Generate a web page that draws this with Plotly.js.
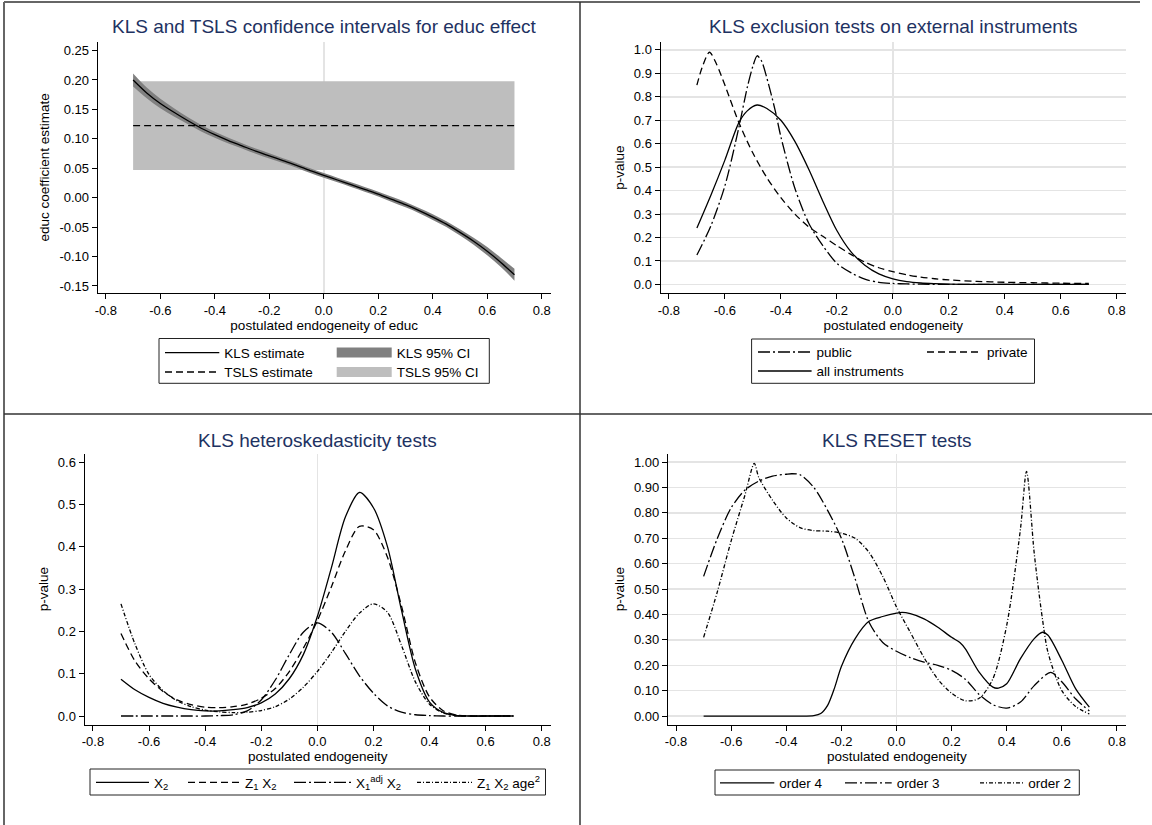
<!DOCTYPE html>
<html>
<head>
<meta charset="utf-8">
<script src="https://cdn.plot.ly/plotly-3.0.1.min.js"></script>
<style>html,body{margin:0;padding:0;background:#fff;}#chart{width:1152px;height:825px;}</style>
</head>
<body>
<div id="chart"></div>
<script>
// ---------- data ----------
const xTickVals = [-0.8,-0.6,-0.4,-0.2,0,0.2,0.4,0.6,0.8];
const xTickText = ['-0.8','-0.6','-0.4','-0.2','0.0','0.2','0.4','0.6','0.8'];

const y1TickVals = [-0.15,-0.10,-0.05,0,0.05,0.10,0.15,0.20,0.25];
const y1TickText = ['-0.15','-0.10','-0.05','0.00','0.05','0.10','0.15','0.20','0.25'];
const y1GridVals = [-0.15,-0.10,-0.05,0,0.05,0.10,0.15,0.20];
const y2TickVals = [0,0.1,0.2,0.3,0.4,0.5,0.6,0.7,0.8,0.9,1.0];
const y2TickText = ['0.0','0.1','0.2','0.3','0.4','0.5','0.6','0.7','0.8','0.9','1.0'];
const y3TickVals = [0,0.1,0.2,0.3,0.4,0.5,0.6];
const y3TickText = ['0.0','0.1','0.2','0.3','0.4','0.5','0.6'];
const y3GridVals = [0,0.1,0.2,0.3,0.4,0.5];
const y4TickVals = [0,0.1,0.2,0.3,0.4,0.5,0.6,0.7,0.8,0.9,1.0];
const y4TickText = ['0.00','0.10','0.20','0.30','0.40','0.50','0.60','0.70','0.80','0.90','1.00'];

// Panel 1: KLS and TSLS confidence intervals
const endog1 = [-0.70,-0.65,-0.60,-0.55,-0.50,-0.45,-0.40,-0.35,-0.30,-0.25,-0.20,-0.15,-0.10,-0.05,0.00,0.05,0.10,0.15,0.20,0.25,0.30,0.35,0.40,0.45,0.50,0.55,0.60,0.65,0.70];
const klsEst = [0.200,0.178,0.160,0.145,0.131,0.118,0.107,0.097,0.088,0.079,0.071,0.063,0.055,0.046,0.038,0.030,0.022,0.014,0.006,-0.003,-0.012,-0.022,-0.033,-0.045,-0.059,-0.074,-0.091,-0.110,-0.131];
const klsLo  = [0.189,0.169,0.152,0.138,0.125,0.1125,0.102,0.092,0.0835,0.0745,0.0665,0.059,0.051,0.042,0.034,0.026,0.018,0.010,0.002,-0.0075,-0.0165,-0.0265,-0.038,-0.050,-0.0645,-0.080,-0.098,-0.118,-0.141];
const klsHi  = [0.211,0.187,0.168,0.152,0.137,0.1235,0.112,0.102,0.0925,0.0835,0.0755,0.067,0.059,0.050,0.042,0.034,0.026,0.018,0.010,0.0015,-0.0075,-0.0175,-0.028,-0.040,-0.0535,-0.068,-0.084,-0.102,-0.121];
const tslsX  = [-0.70,0.70];
const tslsEst = [0.1225,0.1225];
const tslsLo  = [0.047,0.047];
const tslsHi  = [0.198,0.198];

// Panel 2: exclusion tests
const pubX  = [-0.70,-0.65,-0.60,-0.55,-0.52,-0.50,-0.485,-0.47,-0.45,-0.42,-0.40,-0.35,-0.30,-0.25,-0.20,-0.15,-0.10,-0.05,0.00,0.05,0.10,0.20,0.30,0.40,0.50,0.60,0.70];
const pubY  = [0.125,0.25,0.42,0.67,0.84,0.93,0.975,0.955,0.88,0.74,0.63,0.41,0.26,0.165,0.09,0.05,0.022,0.009,0.004,0.002,0.001,0,0,0,0,0,0];
const privX = [-0.70,-0.68,-0.655,-0.63,-0.60,-0.55,-0.50,-0.45,-0.40,-0.35,-0.30,-0.25,-0.20,-0.15,-0.10,-0.05,0.00,0.05,0.10,0.15,0.20,0.30,0.40,0.50,0.60,0.70];
const privY = [0.85,0.93,0.99,0.94,0.85,0.69,0.56,0.455,0.37,0.30,0.245,0.205,0.165,0.128,0.095,0.071,0.054,0.041,0.031,0.024,0.019,0.013,0.009,0.007,0.005,0.004];
const allX  = [-0.70,-0.65,-0.60,-0.55,-0.52,-0.485,-0.45,-0.40,-0.35,-0.30,-0.25,-0.20,-0.15,-0.10,-0.05,0.00,0.05,0.10,0.15,0.20,0.30,0.40,0.50,0.60,0.70];
const allY  = [0.24,0.38,0.53,0.69,0.74,0.765,0.75,0.70,0.61,0.49,0.355,0.23,0.14,0.082,0.045,0.024,0.012,0.006,0.003,0.001,0,0,0,0,0];

// Panel 3: heteroskedasticity tests
const endog3 = [-0.70,-0.65,-0.60,-0.55,-0.50,-0.45,-0.40,-0.35,-0.30,-0.25,-0.20,-0.15,-0.10,-0.05,0.00,0.05,0.10,0.15,0.20,0.25,0.30,0.35,0.40,0.45,0.50,0.55,0.60,0.65,0.70];
const hetX2     = [0.087,0.062,0.044,0.030,0.021,0.015,0.012,0.012,0.015,0.020,0.031,0.052,0.088,0.145,0.235,0.35,0.47,0.528,0.492,0.40,0.25,0.11,0.033,0.008,0.001,0,0,0,0];
const hetZ1X2   = [0.195,0.13,0.088,0.058,0.038,0.027,0.021,0.020,0.022,0.028,0.042,0.065,0.105,0.16,0.225,0.305,0.39,0.448,0.44,0.375,0.26,0.125,0.045,0.012,0.002,0,0,0,0];
const hetX1adj  = [0,0,0,0,0,0,0,0.001,0.003,0.012,0.038,0.085,0.145,0.198,0.22,0.198,0.148,0.095,0.054,0.024,0.009,0.003,0.001,0,0,0,0,0,0];
const hetAge2   = [0.265,0.17,0.098,0.06,0.036,0.022,0.014,0.010,0.008,0.009,0.013,0.022,0.04,0.068,0.105,0.15,0.2,0.243,0.265,0.245,0.167,0.08,0.028,0.007,0.001,0,0,0,0];

// Panel 4: RESET tests
const o4X = [-0.70,-0.60,-0.50,-0.40,-0.35,-0.30,-0.275,-0.25,-0.225,-0.20,-0.15,-0.10,-0.05,0.00,0.02,0.05,0.10,0.15,0.20,0.23,0.25,0.30,0.35,0.37,0.40,0.45,0.50,0.53,0.55,0.60,0.65,0.70];
const o4Y = [0,0,0,0,0,0.002,0.01,0.042,0.11,0.195,0.305,0.373,0.392,0.405,0.408,0.403,0.383,0.35,0.31,0.29,0.265,0.173,0.114,0.11,0.127,0.226,0.305,0.33,0.318,0.22,0.108,0.035];
const o3X = [-0.70,-0.65,-0.60,-0.55,-0.50,-0.45,-0.40,-0.38,-0.35,-0.30,-0.25,-0.20,-0.15,-0.10,-0.05,0.00,0.05,0.10,0.15,0.20,0.25,0.30,0.35,0.40,0.45,0.50,0.56,0.60,0.65,0.70];
const o3Y = [0.55,0.70,0.82,0.89,0.925,0.945,0.952,0.954,0.95,0.90,0.81,0.70,0.54,0.37,0.29,0.255,0.23,0.212,0.2,0.18,0.145,0.085,0.045,0.031,0.055,0.12,0.172,0.135,0.068,0.02];
const o2X = [-0.70,-0.65,-0.60,-0.55,-0.516,-0.50,-0.45,-0.40,-0.35,-0.30,-0.25,-0.20,-0.15,-0.10,-0.05,0.00,0.05,0.10,0.15,0.20,0.25,0.30,0.35,0.40,0.45,0.472,0.50,0.53,0.55,0.60,0.65,0.70];
const o2Y = [0.31,0.49,0.69,0.87,0.995,0.94,0.85,0.78,0.742,0.73,0.728,0.72,0.70,0.645,0.55,0.43,0.33,0.23,0.145,0.09,0.06,0.07,0.147,0.357,0.737,0.963,0.64,0.38,0.25,0.1,0.038,0.008];

// ---------- styling ----------
const W = 1152, H = 825;
const FONT = 'Liberation Sans, Arial, Helvetica, sans-serif';
const TITLE_COLOR = '#1e3262';
const GRID = '#e4e4e4';
const DASH_LONGDOT = '12px,3px,2px,3px';
const DASH_SHORTDOT = '4px,2px,1px,2px';
const DASH = '7px,4px';
const LW = 1.3;

function px(v){ return v / W; }
function py(v){ return 1 - v / H; }

function xa(l, r, anchor, title){
  return {domain:[px(l), px(r)], anchor:anchor, range:[-0.83,0.833], tickvals:xTickVals, ticktext:xTickText,
    ticks:'outside', ticklen:5, tickcolor:'#000', tickwidth:1, showline:true, linecolor:'#000', linewidth:1,
    showgrid:false, zeroline:true, zerolinecolor:GRID, zerolinewidth:1.5,
    tickfont:{family:FONT,size:13,color:'#000'},
    title:{text:title, font:{family:FONT,size:13.5,color:'#000'}, standoff:2}, fixedrange:true};
}
function ya(t, b, anchor, range, tv, tt, title, grid){
  return {domain:[py(b), py(t)], anchor:anchor, range:range, tickvals:tv, ticktext:tt,
    ticks:'outside', ticklen:5, tickcolor:'#000', tickwidth:1, showline:true, linecolor:'#000', linewidth:1,
    showgrid:grid, gridcolor:GRID, gridwidth:1.5, zeroline:false,
    tickfont:{family:FONT,size:13,color:'#000'},
    title:{text:title, font:{family:FONT,size:13.5,color:'#000'}, standoff:6}, fixedrange:true};
}
// grid-only overlay axis (no labels) so that the top tick carries no grid line
function gridAxis(over, anchor, t, b, range, gv){
  return {overlaying:over, anchor:anchor, domain:[py(b), py(t)], range:range, tickvals:gv, showticklabels:false,
    ticks:'', showline:false, showgrid:true, gridcolor:GRID, gridwidth:1.5, zeroline:false, fixedrange:true};
}
function leg(lineStart, textStart, rowCenter){
  return {x:px(lineStart-5), y:py(rowCenter-15), xanchor:'left', yanchor:'top', bgcolor:'rgba(0,0,0,0)',
    borderwidth:0, itemwidth:Math.max(30, textStart-lineStart-5), tracegroupgap:0,
    font:{family:FONT,size:13.5,color:'#000'}, orientation:'v'};
}
function line(x, y, xaxis, yaxis, name, dash, legend){
  return {type:'scatter', mode:'lines', x:x, y:y, xaxis:xaxis, yaxis:yaxis, name:name, legend:legend,
    line:{color:'#000', width:LW, dash:dash, shape:'spline', smoothing:0.8}, hoverinfo:'skip'};
}

const traces = [
  // panel 1
  {type:'scatter', mode:'lines', x:tslsX, y:tslsLo, xaxis:'x', yaxis:'y', line:{width:0,color:'#bebebe'}, showlegend:false, hoverinfo:'skip'},
  {type:'scatter', mode:'lines', x:tslsX, y:tslsHi, xaxis:'x', yaxis:'y', line:{width:0,color:'#bebebe'}, fill:'tonexty', fillcolor:'#bebebe', showlegend:false, hoverinfo:'skip'},
  {type:'scatter', mode:'lines', x:endog1, y:klsLo, xaxis:'x', yaxis:'y', line:{width:0,color:'#808080',shape:'spline'}, showlegend:false, hoverinfo:'skip'},
  {type:'scatter', mode:'lines', x:endog1, y:klsHi, xaxis:'x', yaxis:'y', line:{width:0,color:'#808080',shape:'spline'}, fill:'tonexty', fillcolor:'#808080', showlegend:false, hoverinfo:'skip'},
  line(endog1, klsEst, 'x', 'y', 'KLS estimate', 'solid', 'legend'),
  line(tslsX, tslsEst, 'x', 'y', 'TSLS estimate', DASH, 'legend2'),
  {type:'scatter', mode:'lines', x:[null], y:[null], xaxis:'x', yaxis:'y', name:'KLS 95% CI', legend:'legend3', line:{color:'#808080', width:14}, hoverinfo:'skip'},
  {type:'scatter', mode:'lines', x:[null], y:[null], xaxis:'x', yaxis:'y', name:'TSLS 95% CI', legend:'legend4', line:{color:'#bebebe', width:14}, hoverinfo:'skip'},
  // panel 2
  line(pubX, pubY, 'x2', 'y2', 'public', DASH_LONGDOT, 'legend5'),
  line(privX, privY, 'x2', 'y2', 'private', DASH, 'legend6'),
  line(allX, allY, 'x2', 'y2', 'all instruments', 'solid', 'legend7'),
  // panel 3
  line(endog3, hetX2, 'x3', 'y3', 'X<sub>2</sub>', 'solid', 'legend8'),
  line(endog3, hetZ1X2, 'x3', 'y3', 'Z<sub>1</sub> X<sub>2</sub>', DASH, 'legend9'),
  line(endog3, hetX1adj, 'x3', 'y3', 'X<sub>1</sub><sup>adj</sup> X<sub>2</sub>', DASH_LONGDOT, 'legend10'),
  line(endog3, hetAge2, 'x3', 'y3', 'Z<sub>1</sub> X<sub>2</sub> age<sup>2</sup>', DASH_SHORTDOT, 'legend11'),
  // panel 4
  line(o4X, o4Y, 'x4', 'y4', 'order 4', 'solid', 'legend12'),
  line(o3X, o3Y, 'x4', 'y4', 'order 3', DASH_LONGDOT, 'legend13'),
  line(o2X, o2Y, 'x4', 'y4', 'order 2', DASH_SHORTDOT, 'legend14')
];

function title(text, cx, cy){
  return {text:text, x:px(cx), y:py(cy), xref:'paper', yref:'paper', xanchor:'center', yanchor:'middle', showarrow:false,
    font:{family:FONT, size:19, color:TITLE_COLOR}};
}
function rect(l, t, r, b, color, w){
  return {type:'rect', xref:'paper', yref:'paper', x0:px(l), x1:px(r), y0:py(b), y1:py(t), line:{color:color, width:w}, fillcolor:'rgba(0,0,0,0)', layer:'above'};
}
function seg(x0, y0, x1, y1, color, w){
  return {type:'line', xref:'paper', yref:'paper', x0:px(x0), x1:px(x1), y0:py(y0), y1:py(y1), line:{color:color, width:w}, layer:'above'};
}

const R1 = [-0.162,0.265], R2 = [-0.038,1.035], R3 = [-0.0205,0.6196], R4 = [-0.034,1.033];
const layout = {
  width:W, height:H, margin:{l:0,r:0,t:0,b:0}, paper_bgcolor:'#fff', plot_bgcolor:'#fff', showlegend:true,
  font:{family:FONT, color:'#000'},
  xaxis: xa(97.7, 550.7, 'y', 'postulated endogeneity of educ'),
  yaxis: ya(41.7, 293, 'x', R1, y1TickVals, y1TickText, 'educ coefficient estimate', false),
  xaxis2: xa(660.5, 1126, 'y2', 'postulated endogeneity'),
  yaxis2: ya(41.7, 293.3, 'x2', R2, y2TickVals, y2TickText, 'p-value', true),
  xaxis3: xa(84.5, 551, 'y3', 'postulated endogeneity'),
  yaxis3: ya(453.7, 724.7, 'x3', R3, y3TickVals, y3TickText, 'p-value', false),
  xaxis4: xa(667.8, 1126, 'y4', 'postulated endogeneity'),
  yaxis4: ya(453.7, 724.7, 'x4', R4, y4TickVals, y4TickText, 'p-value', true),
  yaxis5: gridAxis('y', 'x', 41.7, 293, R1, y1GridVals),
  yaxis6: gridAxis('y3', 'x3', 453.7, 724.7, R3, y3GridVals),
  legend:  leg(165, 224.3, 352.3),
  legend2: leg(165, 224.3, 371.7),
  legend3: leg(336.7, 396.7, 352.3),
  legend4: leg(336.7, 396.7, 371.7),
  legend5: leg(758, 816.6, 351.7),
  legend6: leg(927, 987, 351.7),
  legend7: leg(758, 816.6, 370.7),
  legend8: leg(96, 154, 782),
  legend9: leg(188, 245, 782),
  legend10: leg(294, 356, 782),
  legend11: leg(417, 477, 782),
  legend12: leg(720, 779.3, 782.5),
  legend13: leg(845, 896.7, 782.5),
  legend14: leg(980, 1028.3, 782.5),
  annotations:[
    title('KLS and TSLS confidence intervals for educ effect', 324.2, 27),
    title('KLS exclusion tests on external instruments', 893.2, 27),
    title('KLS heteroskedasticity tests', 317.8, 440.3),
    title('KLS RESET tests', 896.9, 440.3)
  ],
  shapes:[
    seg(4, 2, 1140, 2, '#666', 2),
    seg(4, 2, 4, 825, '#666', 2),
    seg(580, 2, 580, 825, '#333', 1.5),
    seg(4, 414, 1152, 414, '#333', 1.5),
    rect(159, 338.5, 489.3, 383.3, '#222', 1),
    rect(751.6, 339, 1034.5, 383.3, '#222', 1),
    rect(90, 769, 545.5, 795, '#222', 1),
    rect(715, 770, 1079.3, 795, '#222', 1)
  ],
  hovermode:false
};

Plotly.newPlot('chart', traces, layout, {staticPlot:true, displayModeBar:false});
</script>
</body>
</html>
